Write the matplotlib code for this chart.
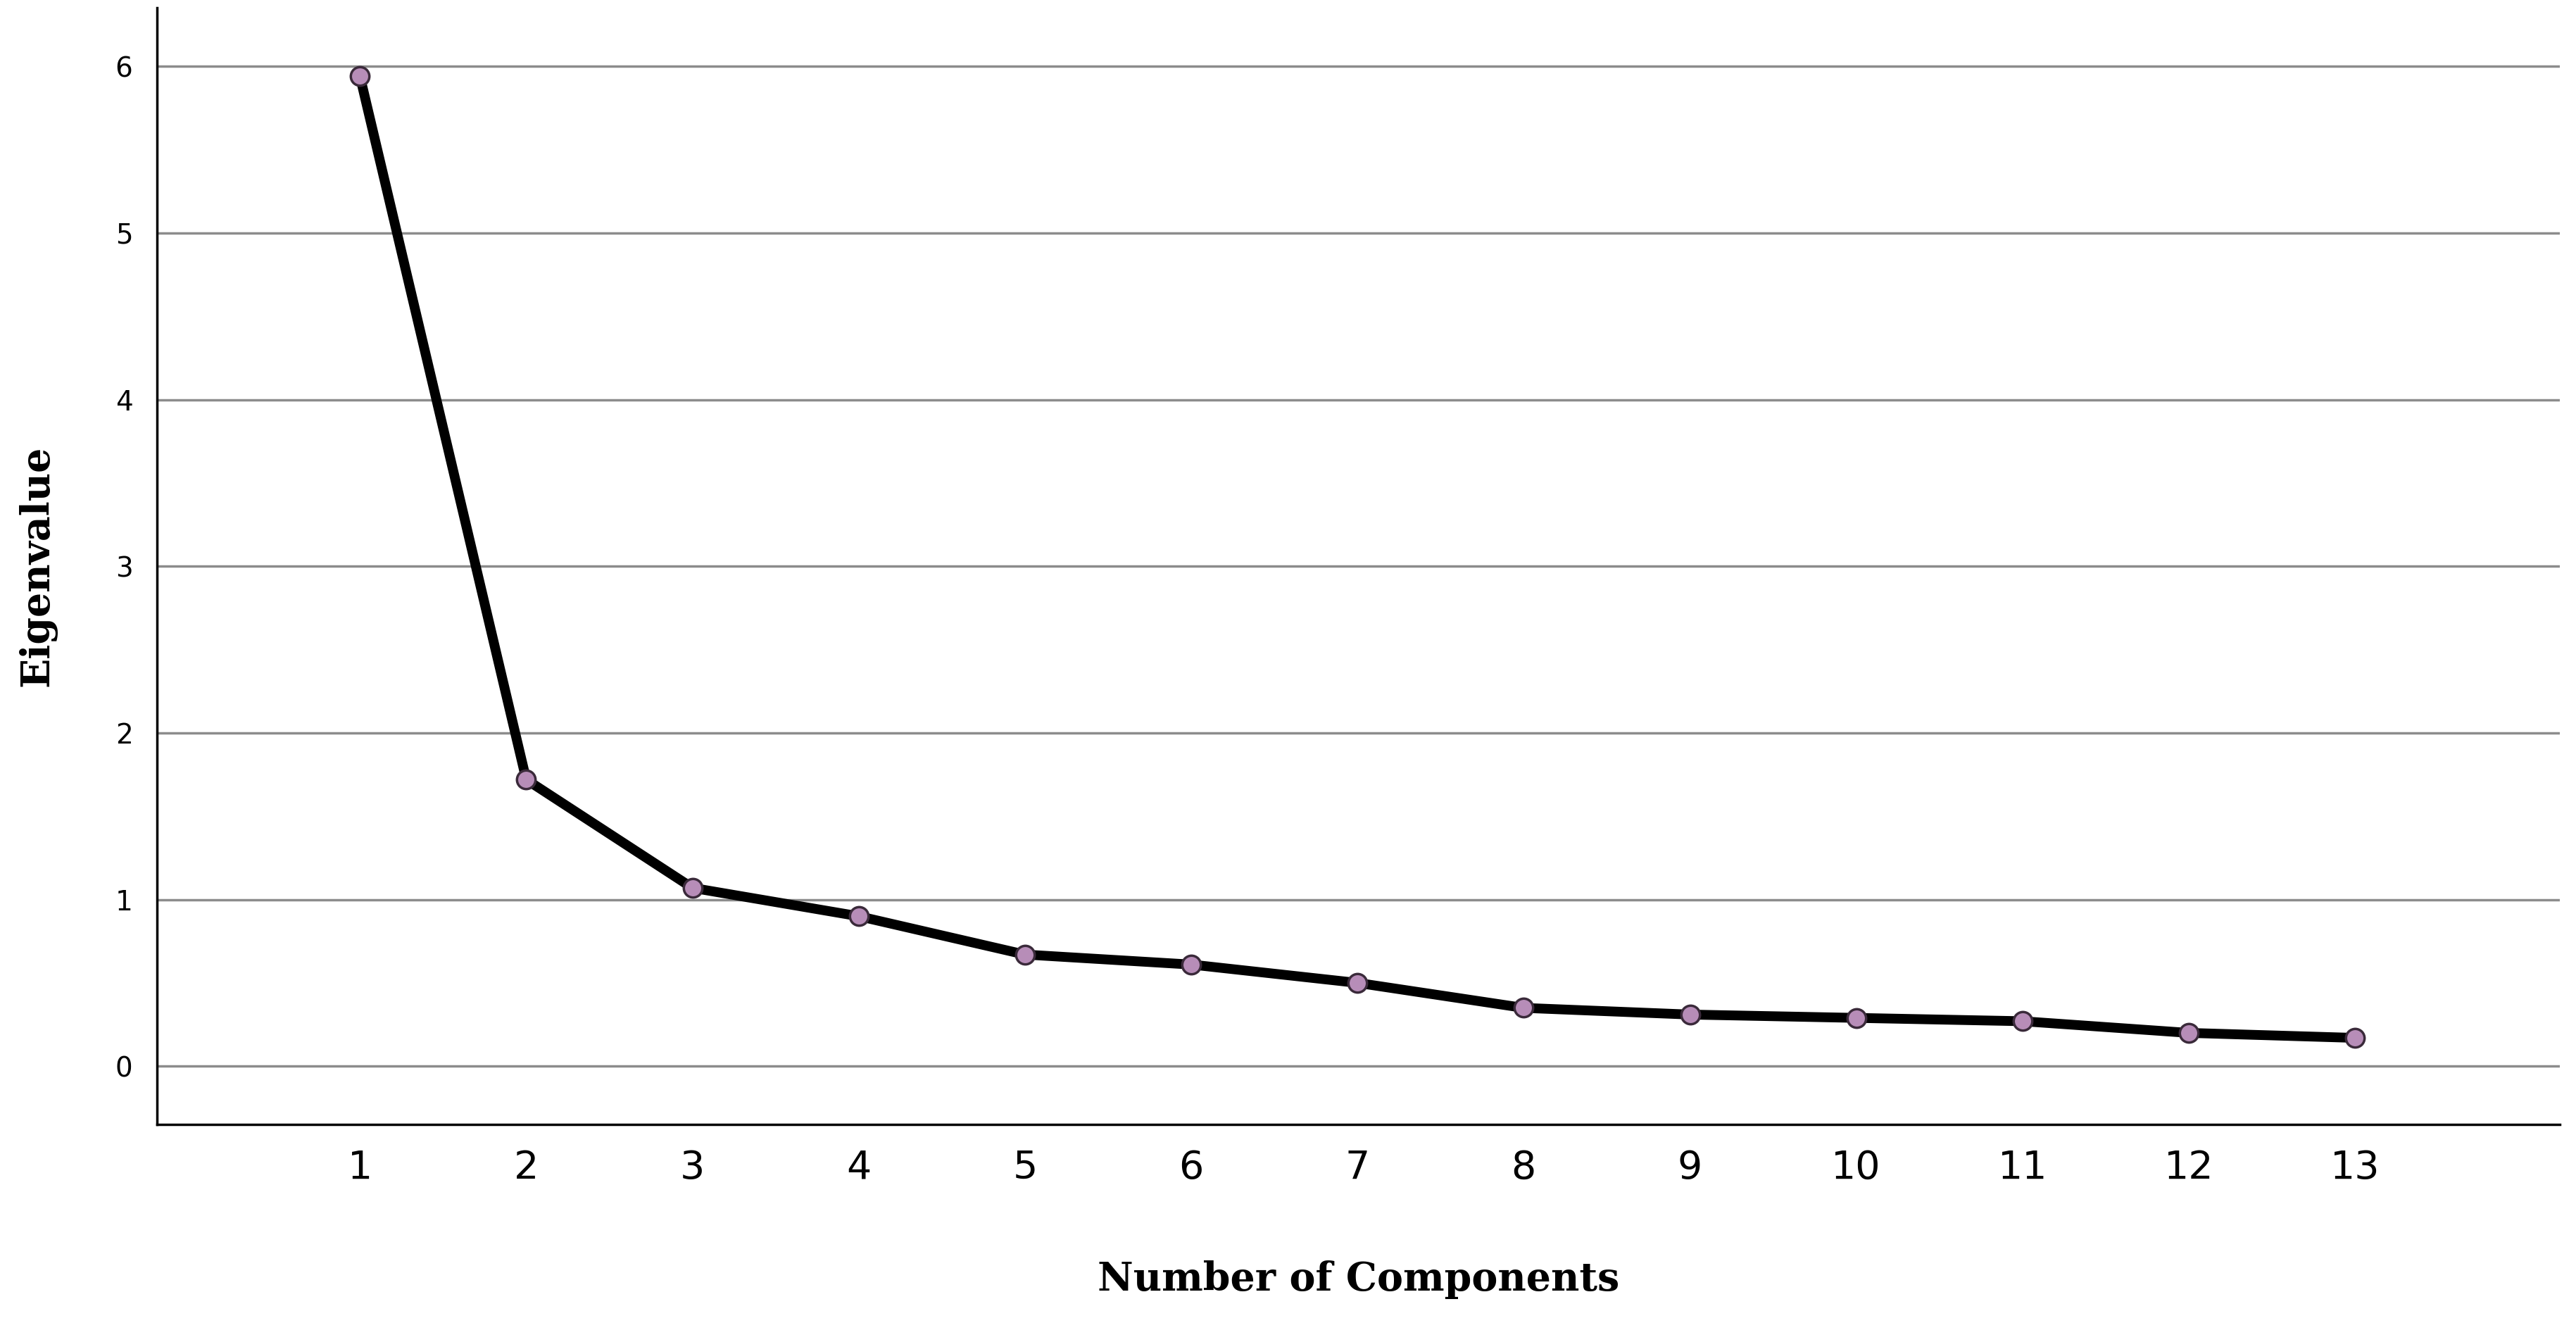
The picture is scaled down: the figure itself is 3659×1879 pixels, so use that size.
import numpy as np
import matplotlib.pyplot as plt

components = list(range(1, 14))
eigenvalues = [5.94, 1.72, 1.07, 0.90, 0.67, 0.61, 0.50, 0.35, 0.31, 0.29, 0.27, 0.20, 0.17]
y_ticks = [0, 1, 2, 3, 4, 5, 6]

fig = plt.figure(figsize=(36.59, 18.79), dpi=100)
ax = fig.add_axes([0.061, 0.15, 0.9326, 0.844])

for t in y_ticks:
    ax.axhline(t, color="#8c8c8c", linewidth=2.5, zorder=1)

ax.plot(components, eigenvalues, color="black", linewidth=10, zorder=2)
ax.plot(components, eigenvalues, linestyle="none", marker="o", markersize=19,
        markerfacecolor="#b78db8", markeredgecolor="#3a2a3a", markeredgewidth=2.5, zorder=3)

ax.set_xlim(-0.22, 14.23)
ax.set_ylim(-0.35, 6.35)
ax.set_xticks(components)
ax.set_yticks(y_ticks)
ax.tick_params(axis="x", labelsize=40, length=0, pad=25)
ax.tick_params(axis="y", labelsize=28, length=0, pad=25)
for s in ["top", "right"]:
    ax.spines[s].set_visible(False)
for s in ["left", "bottom"]:
    ax.spines[s].set_linewidth(2.5)

ax.set_xlabel("Number of Components", fontsize=40, fontweight="bold",
              family="DejaVu Serif", labelpad=75)
ax.set_ylabel("Eigenvalue", fontsize=40, fontweight="bold",
              family="DejaVu Serif", labelpad=60)

fig.savefig("out.png", dpi=100)
